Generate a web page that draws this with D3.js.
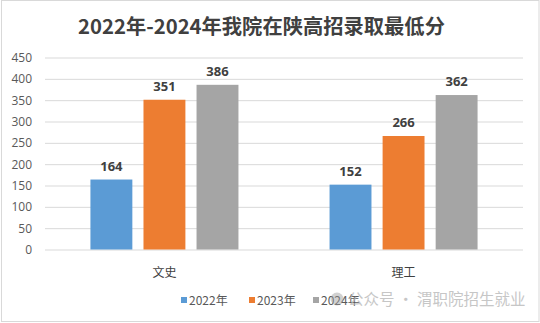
<!DOCTYPE html>
<html>
<head>
<meta charset="utf-8">
<script src="https://cdn.jsdelivr.net/npm/d3@7"></script>
<style>
  html, body { margin: 0; padding: 0; background: #fff; }
  svg { display: block; font-family: "Noto Sans CJK SC", "Open Sans", sans-serif; }
</style>
</head>
<body>
<svg id="chart" width="540" height="323"></svg>
<script>
// Minimum admission scores by category and year
const categories = ["文史", "理工"];
const seriesNames = ["2022年", "2023年", "2024年"];
const scores2022 = [164, 152];
const scores2023 = [351, 266];
const scores2024 = [386, 362];
const yTicks = [0, 50, 100, 150, 200, 250, 300, 350, 400, 450];
const colors = ["#5b9bd5", "#ed7d31", "#a5a5a5"];
const title = "2022年-2024年我院在陕高招录取最低分";
const watermark = "公众号 · 渭职院招生就业";

const seriesValues = [scores2022, scores2023, scores2024];

const svg = d3.select("#chart");
const W = 540, H = 323;

// frame
svg.append("rect")
  .attr("x", 1.5).attr("y", 0.5)
  .attr("width", W - 2.5).attr("height", H - 2)
  .attr("fill", "#fff").attr("stroke", "#d9d9d9");

const plot = { left: 45, right: 523, top: 57.5, bottom: 249.5 };

const y = d3.scaleLinear().domain([0, 450]).range([plot.bottom, plot.top]);

const x0 = d3.scaleBand()
  .domain(categories)
  .range([plot.left, plot.right])
  .paddingInner(0.381)
  .paddingOuter(0.19);

const x1 = d3.scaleBand()
  .domain(seriesNames)
  .range([0, x0.bandwidth()])
  .paddingInner(0.21)
  .paddingOuter(0);

// title
svg.append("text")
  .attr("x", 261.5).attr("y", 34)
  .attr("text-anchor", "middle")
  .attr("font-size", 20.3)
  .attr("font-weight", "bold")
  .attr("fill", "#404040")
  .text(title);

// gridlines + y labels
const yAxis = d3.axisLeft(y).tickValues(yTicks)
  .tickSize(-(plot.right - plot.left)).tickPadding(13);
const yg = svg.append("g")
  .attr("transform", `translate(${plot.left},0)`)
  .call(yAxis);
yg.select(".domain").remove();
yg.selectAll(".tick line").attr("stroke", "#d9d9d9").attr("stroke-width", 1);
yg.selectAll(".tick text")
  .attr("fill", "#595959")
  .attr("font-size", 12)
  .style("font-family", "'Open Sans', 'Noto Sans CJK SC', sans-serif");

// bars
const rows = [];
categories.forEach((c, ci) => {
  seriesNames.forEach((s, si) => {
    rows.push({ cat: c, series: s, si: si, value: seriesValues[si][ci] });
  });
});

const bars = svg.append("g");
bars.selectAll("rect")
  .data(rows)
  .join("rect")
  .attr("x", d => x0(d.cat) + x1(d.series))
  .attr("y", d => y(d.value))
  .attr("width", x1.bandwidth())
  .attr("height", d => y(0) - y(d.value))
  .attr("fill", d => colors[d.si]);

// value labels
svg.append("g").selectAll("text")
  .data(rows)
  .join("text")
  .attr("x", d => x0(d.cat) + x1(d.series) + x1.bandwidth() / 2)
  .attr("y", d => y(d.value) - 9)
  .attr("text-anchor", "middle")
  .attr("font-size", 13)
  .attr("font-weight", "bold")
  .attr("fill", "#404040")
  .style("font-family", "'Open Sans', 'Noto Sans CJK SC', sans-serif")
  .text(d => d.value);

// category labels
svg.append("g").selectAll("text")
  .data(categories)
  .join("text")
  .attr("x", d => x0(d) + x0.bandwidth() / 2)
  .attr("y", 277)
  .attr("text-anchor", "middle")
  .attr("font-size", 12)
  .attr("fill", "#404040")
  .text(d => d);

// legend
const legendX = [181, 249, 313];
const legend = svg.append("g");
seriesNames.forEach((s, i) => {
  legend.append("rect")
    .attr("x", legendX[i]).attr("y", 297)
    .attr("width", 6).attr("height", 6)
    .attr("fill", colors[i]);
  legend.append("text")
    .attr("x", legendX[i] + 8).attr("y", 304.5)
    .attr("font-size", 12)
    .attr("fill", "#595959")
    .text(s);
});

// watermark
const wm = svg.append("g").attr("opacity", 0.75);
wm.append("circle")
  .attr("cx", 337).attr("cy", 299).attr("r", 6.5)
  .attr("fill", "#9a9a9a").attr("opacity", 0.6);
wm.append("text")
  .attr("x", 348).attr("y", 305)
  .attr("font-size", 15.5)
  .attr("fill", "#b4b4b4")
  .text(watermark);
</script>
</body>
</html>
